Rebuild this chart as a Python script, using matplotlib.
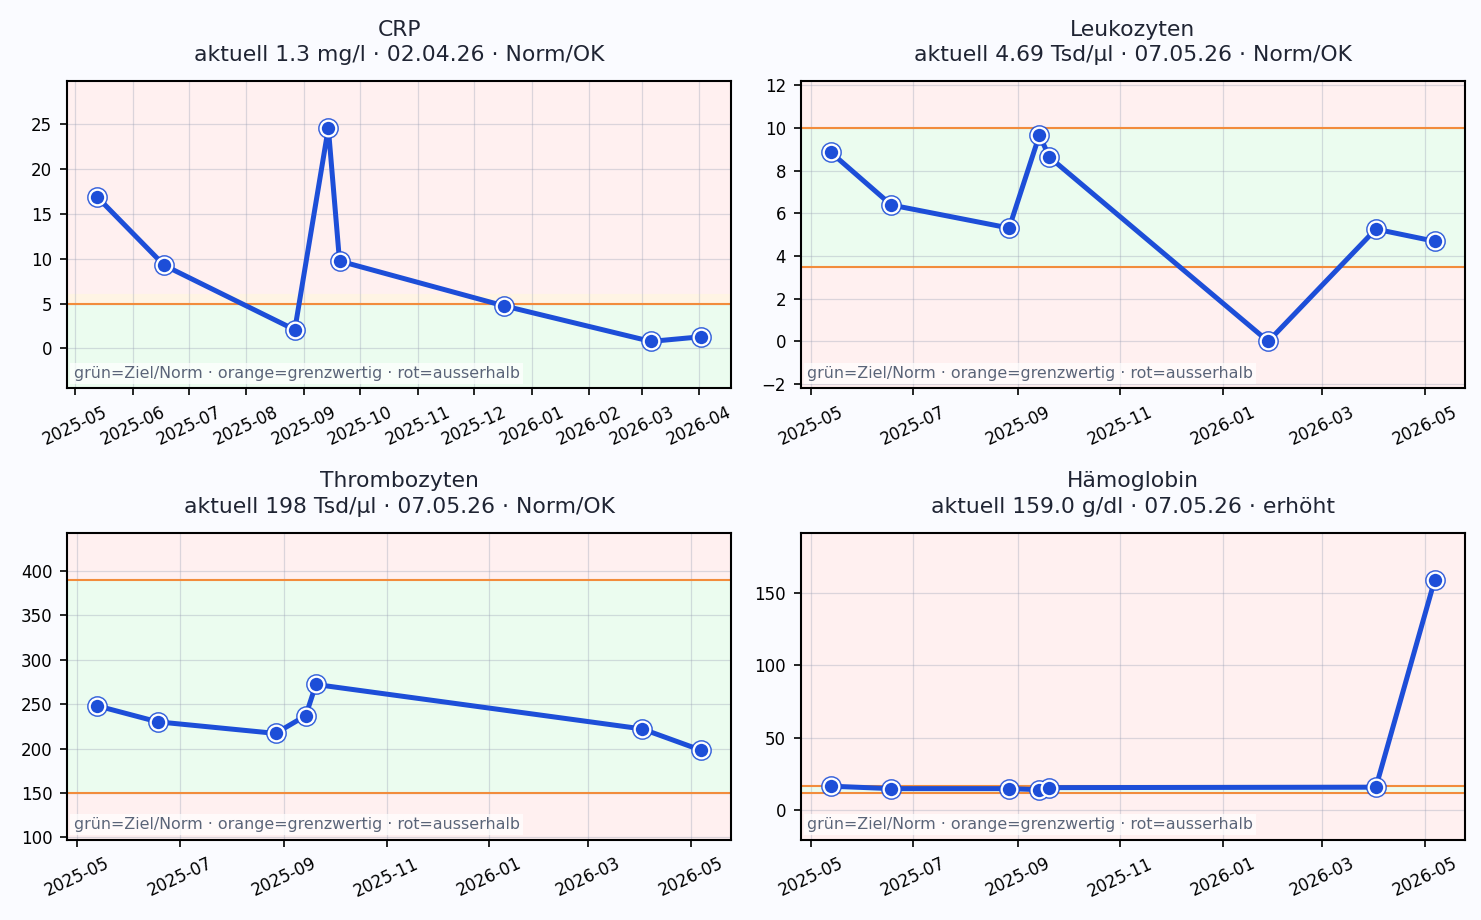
import numpy as np
import pandas as pd
import matplotlib
matplotlib.use("Agg")
import matplotlib.pyplot as plt
from matplotlib.ticker import MultipleLocator

# --- data ---
crp_dates = ["2025-05-13", "2025-06-18", "2025-08-27", "2025-09-14", "2025-09-20",
             "2025-12-17", "2026-03-06", "2026-04-02"]
crp_values = [16.9, 9.26, 2.08, 24.6, 9.75, 4.76, 0.78, 1.3]

leuko_dates = ["2025-05-13", "2025-06-18", "2025-08-27", "2025-09-14", "2025-09-20",
               "2026-01-28", "2026-04-02", "2026-05-07"]
leuko_values = [8.86, 6.39, 5.31, 9.66, 8.63, 0.0, 5.26, 4.69]

thrombo_dates = ["2025-05-13", "2025-06-18", "2025-08-27", "2025-09-14", "2025-09-20",
                 "2026-04-02", "2026-05-07"]
thrombo_values = [248, 230, 217, 237, 272, 222, 198]

hb_dates = thrombo_dates
hb_values = [16.7, 15.0, 15.0, 14.3, 15.7, 16.0, 159.0]

# (name, subtitle, dates, values, low, high, warn_band, ytick_step)
panels = [
    ("CRP", "aktuell 1.3 mg/l · 02.04.26 · Norm/OK", crp_dates, crp_values, None, 5, (5, 6), 5),
    ("Leukozyten", "aktuell 4.69 Tsd/µl · 07.05.26 · Norm/OK", leuko_dates, leuko_values, 3.5, 10, None, 2),
    ("Thrombozyten", "aktuell 198 Tsd/µl · 07.05.26 · Norm/OK", thrombo_dates, thrombo_values, 150, 390, None, 50),
    ("Hämoglobin", "aktuell 159.0 g/dl · 07.05.26 · erhöht", hb_dates, hb_values, 12, 17, None, 50),
]

legend_text = "grün=Ziel/Norm · orange=grenzwertig · rot=ausserhalb"

BLUE = "#1d4ed8"
ORANGE = "#f28c3c"
RED_BG = "#fff0f0"
GREEN_BG = "#ebfcef"
WARN_BG = "#fff4e4"

fig, axes = plt.subplots(2, 2, figsize=(1481 / 150, 920 / 150), dpi=150)
fig.patch.set_facecolor("#fafbff")
plt.subplots_adjust(left=0.0452, right=0.9892, top=0.912, bottom=0.087,
                    wspace=0.104, hspace=0.469)

for ax, (name, sub, dates, vals, lo, hi, warn, step) in zip(axes.flat, panels):
    x = pd.to_datetime(dates)
    v = np.array(vals, dtype=float)

    top = max(v.max(), hi)
    bot = min(v.min(), lo) if lo is not None else v.min()
    pad = 0.22 * (top - bot)
    y0, y1 = bot - pad, top + pad

    ax.set_facecolor(RED_BG)
    ax.axhspan(lo if lo is not None else y0, hi, color=GREEN_BG, zorder=0)
    if warn is not None:
        ax.axhspan(warn[0], warn[1], color=WARN_BG, zorder=0)
    if lo is not None:
        ax.axhline(lo, color=ORANGE, lw=1.0, zorder=1)
    ax.axhline(hi, color=ORANGE, lw=1.0, zorder=1)

    ax.plot(x, v, color=BLUE, lw=2.4, zorder=3)
    ax.plot(x, v, "o", ms=9, color=BLUE, alpha=0.85, zorder=4)
    ax.plot(x, v, "o", ms=7.5, mfc=BLUE, mec="white", mew=1.1, zorder=5)

    ax.set_ylim(y0, y1)
    ax.yaxis.set_major_locator(MultipleLocator(step))
    ax.grid(True, color="#9aa0b4", alpha=0.35, lw=0.6)
    ax.set_axisbelow(True)
    for s in ax.spines.values():
        s.set_linewidth(1.0)
    ax.tick_params(labelsize=8)
    plt.setp(ax.get_xticklabels(), rotation=25, ha="center")

    ax.set_title(name + "\n" + sub, fontsize=10.5, color="#1f2433", pad=9.5,
                 linespacing=1.35)
    ax.text(0.01, 0.025, legend_text, transform=ax.transAxes, fontsize=7.6,
            color="#5a6478", va="bottom", ha="left", zorder=6,
            bbox=dict(facecolor="white", alpha=0.7, edgecolor="none", pad=1.5))

fig.savefig("out.png", dpi=150, facecolor=fig.get_facecolor())
